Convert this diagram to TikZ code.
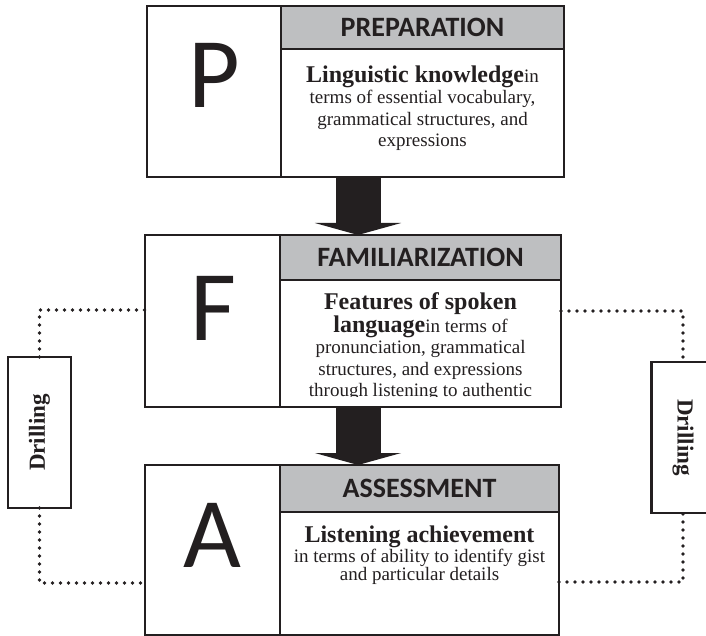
\documentclass[tikz,border=0pt]{standalone}
\usepackage{fontspec}
\setmainfont{Liberation Serif}
\newfontfamily\sansletter{Carlito}
\usetikzlibrary{arrows.meta,calc}
\definecolor{bandgray}{RGB}{190,191,193}
\definecolor{frameblack}{RGB}{35,31,32}

\begin{document}
\begin{tikzpicture}[x=1pt,y=-1pt,
	cell/.style={draw=frameblack,line width=2.8pt,fill=white,anchor=north west,inner sep=0pt,outer sep=0pt},
	band/.style={cell,fill=bandgray,text=frameblack,font=\sansletter\bfseries\fontsize{28}{30}\selectfont},
	bigletter/.style={anchor=base,inner sep=0pt,text=frameblack,font=\sansletter\fontsize{100}{100}\selectfont},
	body/.style={anchor=north,align=center,inner sep=0pt,text=frameblack,font=\fontsize{19}{21.5}\selectfont},
	drillbox/.style={draw=frameblack,line width=2.8pt,fill=white,minimum width=151pt,minimum height=63pt,inner sep=0pt,outer sep=0pt,text=frameblack,font=\bfseries\fontsize{23}{25}\selectfont},
	dots/.style={draw=frameblack,line width=3.8pt,line cap=round,dash pattern=on 0pt off 8pt},
	bigarrow/.style={draw=frameblack,line width=45pt,-{Triangle[width=86pt,length=12pt]}}]
		\useasboundingbox (0,0) rectangle (706,636);
		
		% preparation
		\node[cell,minimum width=134pt,minimum height=171pt] (Pl) at (147,6) {};
		\node[band,minimum width=283pt,minimum height=43pt] (Ph) at (281,6) {PREPARATION};
		\node[cell,minimum width=283pt,minimum height=128pt] (Pc) at (281,49) {};
		\node[bigletter] (Pt) at (214,108) {P};
		\node[body] (Px) at (422.5,65.5) {{\fontsize{24}{26}\selectfont\bfseries Linguistic knowledge}in\\terms of essential vocabulary,\\grammatical structures, and\\expressions};
		
		% familiarization
		\node[cell,minimum width=135pt,minimum height=172pt] (Fl) at (145,235) {};
		\node[band,minimum width=281pt,minimum height=45pt] (Fh) at (280,235) {FAMILIARIZATION};
		\node[cell,minimum width=281pt,minimum height=127pt] (Fc) at (280,280) {};
		\node[bigletter] (Ft) at (213,340) {F};
		\begin{scope}
			\clip (Fc.north west) rectangle ($(Fc.south east)+(0,-11)$);
			\node[body] (Fx) at (420.5,292.5) {{\fontsize{24}{26}\selectfont\bfseries Features of spoken}\\{\fontsize{24}{26}\selectfont\bfseries language}in terms of\\pronunciation, grammatical\\structures, and expressions\\through listening to authentic};
		\end{scope}
		
		% assessment
		\node[cell,minimum width=135pt,minimum height=170pt] (Al) at (145,465) {};
		\node[band,minimum width=279pt,minimum height=47pt] (Ah) at (280,465) {ASSESSMENT};
		\node[cell,minimum width=279pt,minimum height=123pt] (Ac) at (280,512) {};
		\node[bigletter] (At) at (212,567) {A};
		\node[body,font=\fontsize{19}{18}\selectfont] (Ax) at (419.5,525.5) {{\fontsize{24}{26}\selectfont\bfseries Listening achievement}\\in terms of ability to identify gist\\and particular details};
		
		% drilling loops
		\node[drillbox,rotate=90] (Dl) at (39.5,432.5) {Drilling};
		\node[drillbox,rotate=-90] (Dr) at (683,437.5) {Drilling};
		\draw[dots] (Dl.east) |- ($(Fl.north west)+(0,75)$);
		\draw[dots] (Dl.west) |- ($(Al.north west)+(0,118)$);
		\draw[dots] ($(Fh.north east)+(0,76)$) -| (Dr.west);
		\draw[dots] ($(Ah.north east)+(0,117)$) -| (Dr.east);
		
		\draw[bigarrow] ($(Pl.south east)+(77,0)$) -- ($(Fl.north east)+(78,0)$);
		\draw[bigarrow] ($(Fl.south east)+(78,0)$) -- ($(Al.north east)+(78,0)$);
	\end{tikzpicture}
\end{document}
